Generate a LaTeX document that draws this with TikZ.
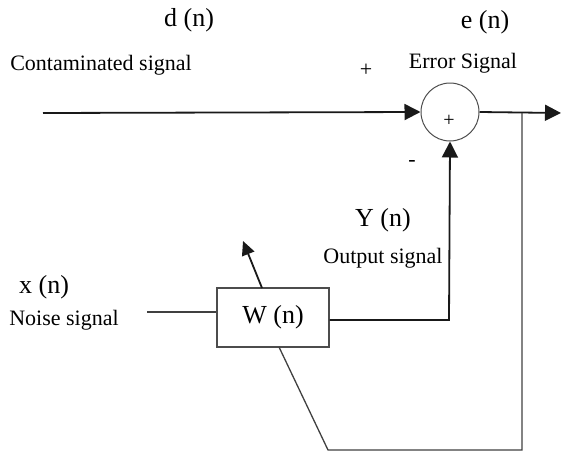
\documentclass[tikz,border=0pt]{standalone}
\usepackage{fontspec}
\setmainfont{Liberation Serif}
\usetikzlibrary{arrows.meta}

\begin{document}
\begin{tikzpicture}[x=1pt, y=-1pt,
        lbl/.style={font=\fontsize{22}{25}\selectfont, inner sep=0pt},
        sig/.style={font=\fontsize{26}{29}\selectfont, inner sep=0pt},
        sum/.style={circle, draw=black!70, line width=1pt, minimum size=58pt, inner sep=0pt},
        block/.style={rectangle, draw=black!70, line width=1.3pt, minimum width=112pt, minimum height=59pt, font=\fontsize{26}{29}\selectfont},
        wire/.style={draw=black!75, line width=1.3pt},
        arrow/.style={draw=black!90, line width=1.8pt, -{Triangle[length=16pt, width=16pt]}}
    ]
        \useasboundingbox (0,0) rectangle (561,452);

        % Adder and filter
        \node[sum] (Sum) at (450,112) {};
        \node[font=\fontsize{20}{22}\selectfont, inner sep=0pt] (SumPlus) at (449,121) {+};
        \node[block] (W) at (273,317.5) {W (n)};

        % Free ends of the connectors
        \coordinate (Din) at (43,113);
        \coordinate (Eout) at (561,113);
        \coordinate (Tap) at (522,113);
        \coordinate (Corner) at (522,450);
        \coordinate (Bottom) at (328,450);
        \coordinate (Wfoot) at (279,347);
        \coordinate (Nin) at (147,312);
        \coordinate (Yout) at (449,320);
        \coordinate (AdaptFrom) at (262,288);
        \coordinate (AdaptTo) at (243,241);

        % Signal paths
        \draw[arrow] (Din) -- (Sum.west);
        \draw[arrow] (Sum.east) -- (Eout);
        \draw[wire] (Tap) -- (Corner) -- (Bottom) -- (Wfoot);
        \draw[wire] (Nin) -- (W.west |- Nin);
        \draw[arrow] (W.east |- Yout) -- (Yout) -- (Sum.south);
        \draw[draw=black!90, line width=1.8pt, -{Triangle[length=14pt, width=13pt]}] (AdaptFrom) -- (AdaptTo);

        % Labels
        \node[sig] (dLbl) at (189,20) {d (n)};
        \node[sig] (eLbl) at (485,22) {e (n)};
        \node[lbl] (Contam) at (101,65) {Contaminated signal};
        \node[lbl] (Plus) at (366,70) {+};
        \node[lbl] (Error) at (463,63) {Error Signal};
        \node[lbl] (Minus) at (412,163) {-};
        \node[sig] (yLbl) at (383,220) {Y (n)};
        \node[lbl] (Output) at (383,258) {Output signal};
        \node[sig] (xLbl) at (44,287) {x (n)};
        \node[lbl] (Noise) at (64,320) {Noise signal};
    \end{tikzpicture}
\end{document}
